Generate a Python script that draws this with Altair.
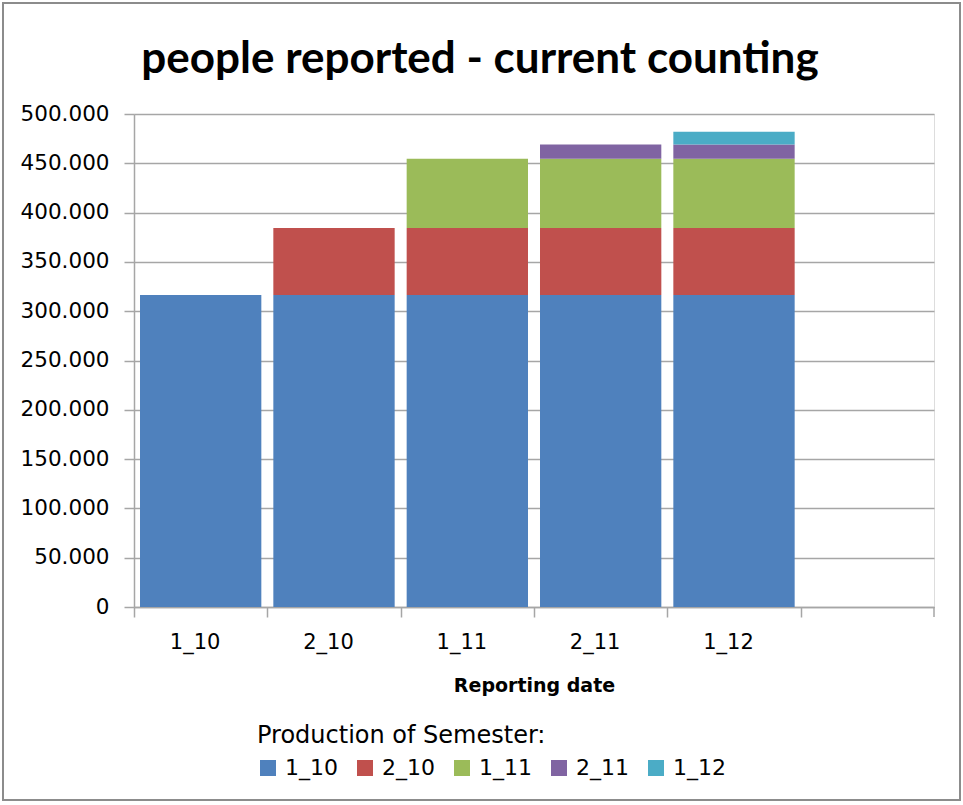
import altair as alt
import pandas as pd

# Reporting dates (x categories); the trailing blank keeps an empty slot on the axis
reporting_dates = ["1_10", "2_10", "1_11", "2_11", "1_12"]
axis_slots = reporting_dates + [" "]

# Production semesters and the number of people each contributes once reported
semesters = ["1_10", "2_10", "1_11", "2_11", "1_12"]
semester_people = [316500, 68000, 70000, 14500, 13000]

colors = ["#4F81BD", "#C0504D", "#9BBB59", "#8064A2", "#4BACC6"]

y_ticks = [0, 50000, 100000, 150000, 200000, 250000, 300000, 350000, 400000, 450000, 500000]

chart_title = "people reported - current counting"

# A semester is counted from its own reporting date onward
rows = []
for i, date in enumerate(reporting_dates):
    for j, sem in enumerate(semesters):
        if j <= i:
            rows.append({"date": date, "semester": sem, "order": j, "people": semester_people[j]})
df = pd.DataFrame(rows)
single = pd.DataFrame({"label": [chart_title]})

FONT = "DejaVu Sans"
TITLE_FONT = "Lato"
GRID = "#a6a6a6"
W, H = 800, 493

x_enc = alt.X(
    "date:N",
    scale=alt.Scale(domain=axis_slots, paddingInner=0.09, paddingOuter=0.045),
    axis=alt.Axis(
        title="Reporting date",
        titleFont=FONT, titleFontSize=19, titleFontWeight="bold", titleColor="#000",
        titlePadding=24,
        labelFont=FONT, labelFontSize=21, labelColor="#000", labelPadding=14,
        labelAngle=0,
        bandPosition=0, tickOffset=-6, tickSize=10, tickColor=GRID, tickWidth=1.5,
        domainColor=GRID, domainWidth=1.5, grid=False,
    ),
)

bars = alt.Chart(df).mark_bar().encode(
    x=x_enc,
    y=alt.Y(
        "people:Q",
        stack="zero",
        scale=alt.Scale(domain=[0, 500000], nice=False),
        axis=alt.Axis(
            title=None, values=y_ticks,
            labelExpr="datum.value == 0 ? '0' : replace(format(datum.value, ','), ',', '.')",
            labelFont=FONT, labelFontSize=21.5, labelColor="#000", labelPadding=15,
            tickSize=10, tickColor=GRID, tickWidth=1.5,
            domainColor=GRID, domainWidth=1.5,
            grid=True, gridColor=GRID, gridWidth=1.5,
        ),
    ),
    color=alt.Color(
        "semester:N",
        scale=alt.Scale(domain=semesters, range=colors),
        legend=alt.Legend(
            title="Production of Semester:",
            orient="none", legendX=123, legendY=610,
            direction="horizontal",
            titleFont=FONT, titleFontSize=24, titleFontWeight="normal", titleColor="#000",
            titlePadding=9, titleLimit=500,
            labelFont=FONT, labelFontSize=22, labelColor="#000", labelOffset=6,
            symbolType="square", symbolSize=256, symbolStrokeWidth=0,
            columnPadding=16,
        ),
    ),
    order=alt.Order("order:Q", sort="ascending"),
)

# chart heading
heading = alt.Chart(single).mark_text(
    font=TITLE_FONT, fontSize=44, fontWeight="bold", color="#000",
    align="center", baseline="alphabetic",
).encode(x=alt.value(346), y=alt.value(-41), text="label:N")

# closing tick at the right end of the category axis
end_tick = alt.Chart(single).mark_rule(color=GRID, strokeWidth=1.5).encode(
    x=alt.value(W), y=alt.value(H), y2=alt.value(H + 10)
)

# thin frame around the whole figure
frame = alt.Chart(single).mark_rect(fill=None, stroke="#8c8c8c", strokeWidth=2).encode(
    x=alt.value(-131), x2=alt.value(826), y=alt.value(-111), y2=alt.value(686)
)

chart = alt.layer(bars, heading, end_tick, frame).properties(
    width=W, height=H,
    autosize=alt.AutoSizeParams(type="none"),
    padding={"left": 134, "top": 114, "right": 29, "bottom": 198},
).configure_view(stroke=None).configure(background="white")

chart.save("out.html", embed_options={"renderer": "svg", "actions": False})
